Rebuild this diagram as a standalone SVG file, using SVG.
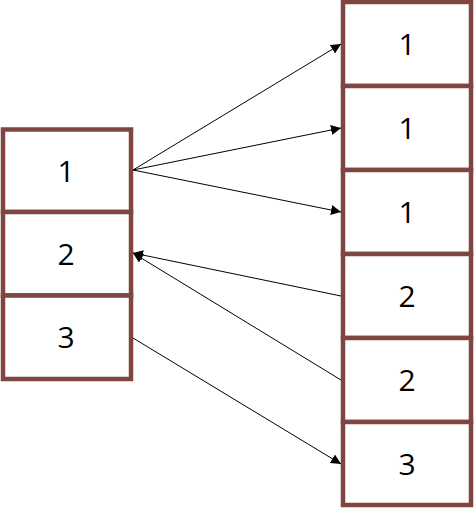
<svg xmlns="http://www.w3.org/2000/svg" width="474" height="508" viewBox="0 0 474 508">
<defs>
<marker id="ah" viewBox="0 0 10 10" refX="10" refY="5" markerWidth="10" markerHeight="10" markerUnits="userSpaceOnUse" orient="auto">
<path d="M0,0 L10,5 L0,10 z" fill="#000"/>
</marker>
<style>
.cell{fill:#fff;stroke:#7f4540;stroke-width:4.5}
.t{font-family:"Open Sans","Liberation Sans",sans-serif;font-size:30px;text-anchor:middle;fill:#000}
.c{stroke:#000;stroke-width:1;fill:none;marker-end:url(#ah)}
</style>
</defs>
<g id="left1"><rect class="cell" x="3" y="129.5" width="128" height="82.5"/><text class="t" x="66" y="182">1</text></g>
<g id="left2"><rect class="cell" x="3" y="212" width="128" height="83.5"/><text class="t" x="66" y="265">2</text></g>
<g id="left3"><rect class="cell" x="3" y="295.5" width="128" height="83.5"/><text class="t" x="66" y="348">3</text></g>
<g id="right1"><rect class="cell" x="343" y="2" width="128" height="84"/><text class="t" x="407" y="55">1</text></g>
<g id="right2"><rect class="cell" x="343" y="86" width="128" height="84"/><text class="t" x="407" y="139">1</text></g>
<g id="right3"><rect class="cell" x="343" y="170" width="128" height="84"/><text class="t" x="407" y="223">1</text></g>
<g id="right4"><rect class="cell" x="343" y="254" width="128" height="84"/><text class="t" x="407" y="307">2</text></g>
<g id="right5"><rect class="cell" x="343" y="338" width="128" height="84"/><text class="t" x="407" y="391">2</text></g>
<g id="right6"><rect class="cell" x="343" y="422" width="128" height="83"/><text class="t" x="407" y="475">3</text></g>
<g id="connectors">
<line class="c" x1="133" y1="170" x2="341" y2="44"/>
<line class="c" x1="133" y1="170" x2="341" y2="128"/>
<line class="c" x1="133" y1="170" x2="341" y2="212"/>
<line class="c" x1="341" y1="296" x2="133" y2="253"/>
<line class="c" x1="341" y1="380" x2="133" y2="253"/>
<line class="c" x1="133" y1="338" x2="341" y2="464"/>
</g>
</svg>
